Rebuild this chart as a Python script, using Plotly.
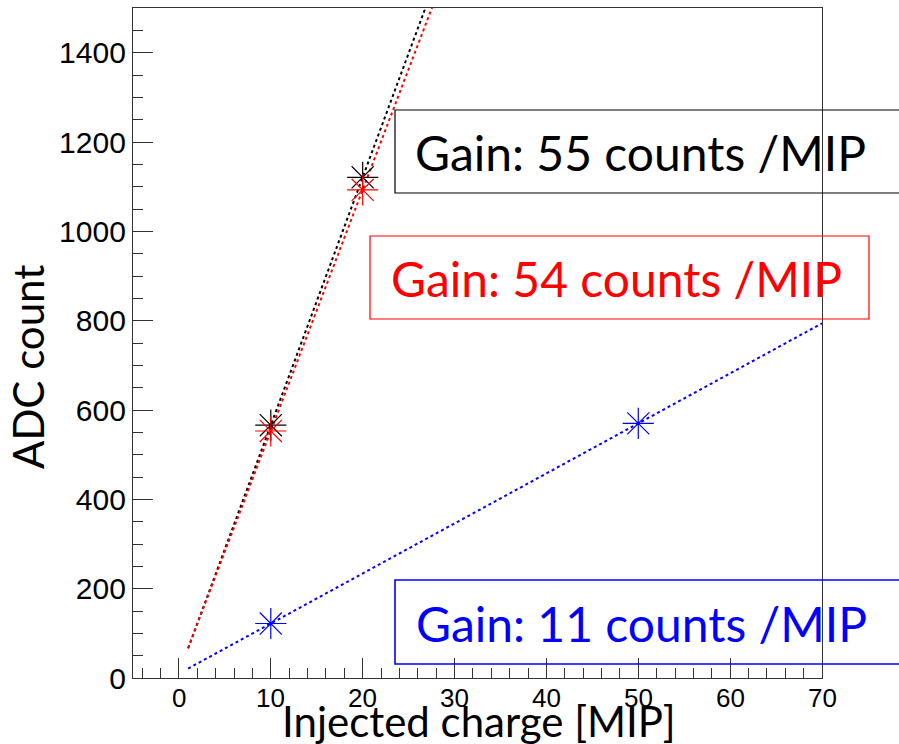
import numpy as np
import plotly.graph_objects as go

# ---- data ----
charge_black = [10, 20]
adc_black = [566, 1121]
charge_red = [10, 20]
adc_red = [553, 1093]
charge_blue = [10, 50]
adc_blue = [122, 570]
fit_range = [1, 70]
x_ticks = [0, 10, 20, 30, 40, 50, 60, 70]
labels = ["Gain: 55 counts /MIP", "Gain: 54 counts /MIP", "Gain: 11 counts /MIP"]

W, H = 899, 744
L, R, T, B = 133, 822, 8, 678  # plot frame in pixels


def px(x):
    return (x - L) / (R - L)


def py(y):
    return (B - y) / (B - T)


fig = go.Figure()

series = [
    (charge_black, adc_black, "black"),
    (charge_red, adc_red, "red"),
    (charge_blue, adc_blue, "blue"),
]
for xs, ys, col in series:
    slope, icpt = np.polyfit(xs, ys, 1)
    fx = np.array(fit_range, dtype=float)
    fig.add_trace(go.Scatter(x=fx, y=slope * fx + icpt, mode="lines",
                             line=dict(color=col, width=2, dash="dot"),
                             showlegend=False, hoverinfo="skip"))
for xs, ys, col in series:
    fig.add_trace(go.Scatter(x=xs, y=ys, mode="markers",
                             marker=dict(symbol="asterisk-open", size=26, color=col,
                                         line=dict(color=col, width=1.2)),
                             showlegend=False))

font_text = "Lato, 'Open Sans', sans-serif"

# text boxes
boxes = [
    (395, 960, 110, 193, "black", 1.2),
    (370, 869, 236, 319, "red", 1.2),
    (395, 960, 580, 664, "blue", 1.6),
]
for (x0, x1, y0, y1, col, lw) in boxes:
    fig.add_shape(type="rect", xref="paper", yref="paper",
                  x0=px(x0), x1=px(x1), y0=py(y1), y1=py(y0),
                  line=dict(color=col, width=lw), fillcolor="rgba(0,0,0,0)", layer="above")

fig.add_annotation(text=labels[0], xref="paper", yref="paper", x=px(413), y=py(152),
                   xanchor="left", yanchor="middle", showarrow=False,
                   font=dict(family=font_text, size=48, color="black"))
fig.add_annotation(text=labels[1], xref="paper", yref="paper", x=px(616), y=py(278),
                   xanchor="center", yanchor="middle", showarrow=False,
                   font=dict(family=font_text, size=48, color="red"))
fig.add_annotation(text=labels[2], xref="paper", yref="paper", x=px(414), y=py(623),
                   xanchor="left", yanchor="middle", showarrow=False,
                   font=dict(family=font_text, size=48, color="blue"))

# x tick labels (placed just under the axis, as in the reference)
for v in x_ticks:
    fig.add_annotation(text=str(v), xref="x", yref="paper", x=v, y=py(698),
                       xanchor="center", yanchor="middle", showarrow=False,
                       font=dict(family="Liberation Sans, Arial", size=26, color="black"))

# axis titles
fig.add_annotation(text="Injected charge [MIP]", xref="paper", yref="paper",
                   x=px(479), y=py(721), xanchor="center", yanchor="middle",
                   showarrow=False, font=dict(family=font_text, size=42, color="black"))
fig.add_annotation(text="ADC count", xref="paper", yref="paper",
                   x=px(28), y=py(367), xanchor="center", yanchor="middle", textangle=-90,
                   showarrow=False, font=dict(family=font_text, size=42, color="black"))

axis_common = dict(showgrid=False, zeroline=False, showline=True, mirror=True,
                   linecolor="#333333", linewidth=1.3, ticks="inside", tickcolor="#333333",
                   tickwidth=1)

fig.update_xaxes(range=[-5, 70], tick0=0, dtick=10, ticklen=20, showticklabels=False,
                 minor=dict(dtick=2, ticklen=10, ticks="inside", tickcolor="#333333", tickwidth=1),
                 **axis_common)
fig.update_yaxes(range=[0, 1500], tick0=0, dtick=200, ticklen=20,
                 minor=dict(dtick=50, ticklen=10, ticks="inside", tickcolor="#333333", tickwidth=1),
                 tickfont=dict(size=30, family="Liberation Sans, Arial", color="black"),
                 **axis_common)

fig.update_layout(width=W, height=H, margin=dict(l=L, r=W - R, t=T, b=H - B),
                  paper_bgcolor="white", plot_bgcolor="white", showlegend=False)

fig.write_html("out.html", config={"displayModeBar": False},
               post_script="document.body.style.margin='0';")
